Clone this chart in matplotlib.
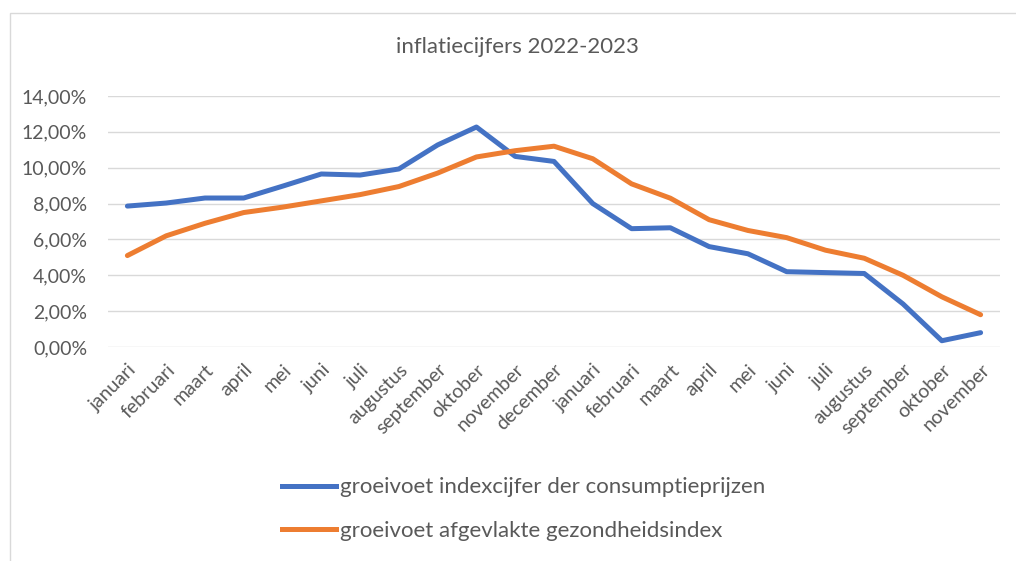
import matplotlib
matplotlib.use("Agg")
import matplotlib.pyplot as plt
from matplotlib.patches import Rectangle
from matplotlib.lines import Line2D
from matplotlib.ticker import FuncFormatter

months = ["januari", "februari", "maart", "april", "mei", "juni", "juli", "augustus",
          "september", "oktober", "november", "december",
          "januari", "februari", "maart", "april", "mei", "juni", "juli", "augustus",
          "september", "oktober", "november"]

cpi = [7.86, 8.03, 8.31, 8.31, 8.97, 9.65, 9.59, 9.93, 11.27, 12.27, 10.63, 10.35,
       8.00, 6.60, 6.65, 5.60, 5.20, 4.20, 4.15, 4.10, 2.40, 0.35, 0.80]
health = [5.10, 6.20, 6.90, 7.50, 7.80, 8.15, 8.50, 8.95, 9.70, 10.60, 10.95, 11.20,
          10.50, 9.10, 8.30, 7.10, 6.50, 6.10, 5.40, 4.95, 4.00, 2.80, 1.80]

series_names = ["groeivoet indexcijfer der consumptieprijzen",
                "groeivoet afgevlakte gezondheidsindex"]
title = "inflatiecijfers 2022-2023"
yticks = [0, 2, 4, 6, 8, 10, 12, 14]

plt.rcParams['font.family'] = ['Lato', 'DejaVu Sans']

W, H = 1016, 561
fig = plt.figure(figsize=(W / 100, H / 100), dpi=100)

# outer chart border
fig.patches.append(Rectangle((10 / W, -0.1), 1.2, 1 - 13 / H + 0.1, transform=fig.transFigure,
                             fill=False, edgecolor="#D9D9D9", linewidth=1.0))

ax = fig.add_axes([108 / W, 1 - 347 / H, (1000 - 108) / W, (347 - 96) / H])
x = list(range(len(months)))
blue = "#4472C4"
orange = "#ED7D31"
ax.plot(x, cpi, color=blue, linewidth=3.6, solid_capstyle="round", solid_joinstyle="round", zorder=3)
ax.plot(x, health, color=orange, linewidth=3.6, solid_capstyle="round", solid_joinstyle="round", zorder=3)

ax.set_xlim(-0.5, len(months) - 0.5)
ax.set_ylim(0, 14)
ax.set_yticks(yticks)
ax.yaxis.set_major_formatter(FuncFormatter(lambda v, p: f"{v:.2f}%".replace(".", ",")))
ax.set_xticks(x)
ax.set_xticklabels(months, rotation=45, ha="right", rotation_mode="anchor")
ax.tick_params(axis="both", length=0, colors="#595959", labelsize=14)
ax.tick_params(axis="x", pad=10)
ax.tick_params(axis="y", pad=15)
ax.grid(axis="y", color="#D9D9D9", linewidth=1.0)
ax.set_axisbelow(True)
for s in ax.spines.values():
    s.set_visible(False)

fig.text(517 / W, 1 - 47 / H, title, ha="center", va="center", fontsize=16, color="#595959")

handles = [Line2D([0], [0], color=blue, linewidth=3.6),
           Line2D([0], [0], color=orange, linewidth=3.6)]
leg = fig.legend(handles, series_names, loc="center", bbox_to_anchor=(524 / W, 1 - 509 / H),
                 ncol=1, frameon=False, fontsize=16, labelcolor="#595959",
                 handlelength=2.4, handletextpad=0.2, labelspacing=1.05)

fig.savefig("out.png", dpi=100)
